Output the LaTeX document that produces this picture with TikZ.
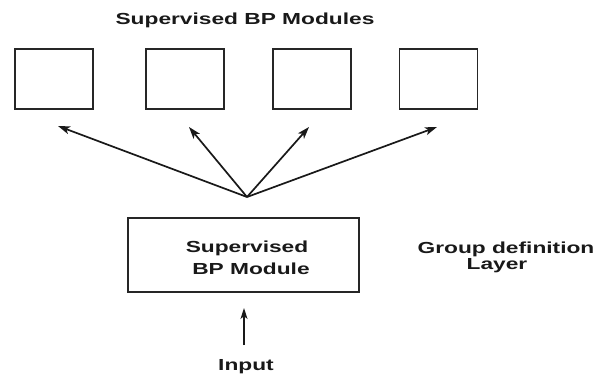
\documentclass[tikz,border=0pt]{standalone}
\usepackage{fontspec}
\newfontfamily\labfont{Liberation Sans}[FakeStretch=1.42]
\usetikzlibrary{arrows.meta}
\begin{document}
\begin{tikzpicture}[x=1pt,y=-1pt,
  modbox/.style={draw=black!85,line width=1.7pt,minimum width=78pt,minimum height=60pt,inner sep=0pt},
  lab/.style={font=\labfont\bfseries\fontsize{16}{18}\selectfont,inner sep=0pt,anchor=base,text=black!90},
  arr/.style={draw=black!90,line width=1.7pt,-{Stealth[length=12pt,width=8pt,inset=3pt]}}]
\useasboundingbox (0,0) rectangle (598,378);
% top modules
\node[modbox] (b1) at (54,79) {};
\node[modbox] (b2) at (185,79) {};
\node[modbox] (b3) at (312,79) {};
\node[modbox] (b4) at (438.5,79) {};
\node[lab] (title) at (245,24) {Supervised BP Modules};
% fan
\coordinate (f) at (247,197);
\coordinate (t1) at (58,126);
\coordinate (t2) at (189,127);
\coordinate (t3) at (309,127);
\coordinate (t4) at (437,127);
\draw[arr] (f) -- (t1);
\draw[arr] (f) -- (t2);
\draw[arr] (f) -- (t3);
\draw[arr] (f) -- (t4);
% main box
\node[modbox,minimum width=231pt,minimum height=74pt] (gm) at (243.5,255) {};
\node[lab] (s1) at (247,252) {Supervised};
\node[lab] (s2) at (251,274) {BP Module};
\node[lab] (g1) at (506,253) {Group definition};
\node[lab] (g2) at (497,269) {Layer};
% input
\node[lab] (in) at (246,370) {Input};
\coordinate (ia) at (244,345);
\coordinate (it) at (244,308);
\draw[arr,line width=1.5pt,-{Stealth[length=11pt,width=7pt,inset=3pt]}] (ia) -- (it);
\end{tikzpicture}
\end{document}
